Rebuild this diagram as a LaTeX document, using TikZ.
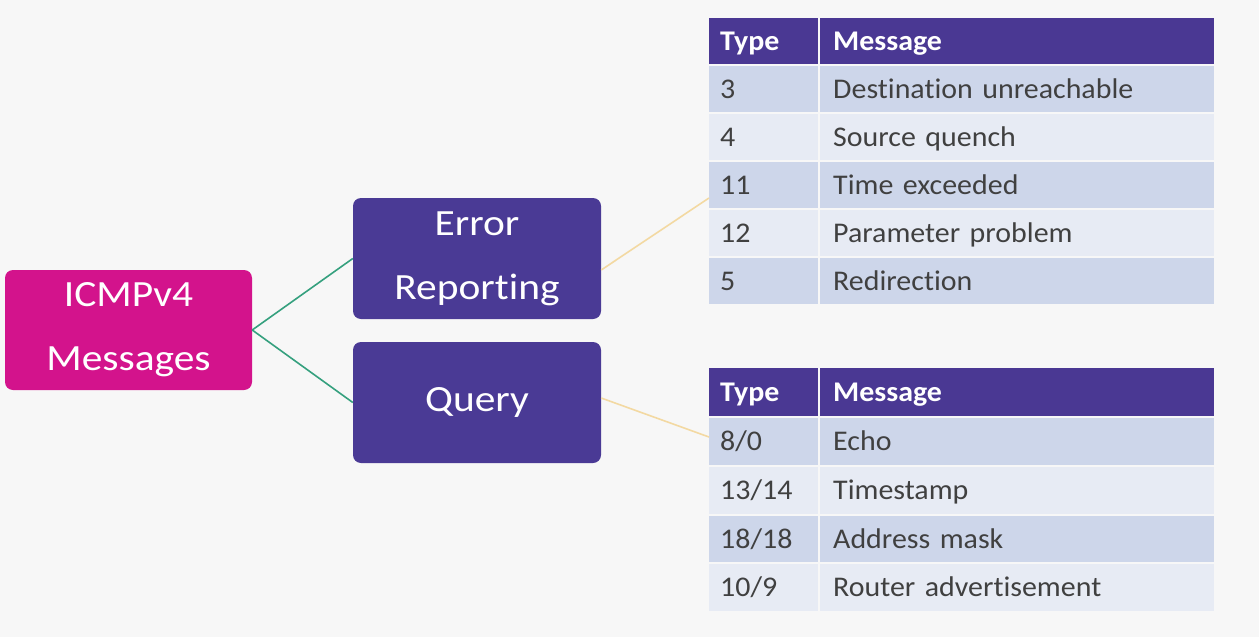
\documentclass[tikz,border=0pt]{standalone}
\usepackage{fontspec}
\setmainfont[Ligatures={NoCommon}]{Carlito}
\newfontfamily\boxfont[Ligatures={NoCommon},FakeStretch=1.12]{Carlito}
\newfontfamily\cellfont[Ligatures={NoCommon},FakeStretch=1.05]{Carlito}
\definecolor{bgc}{HTML}{F7F7F7}
\definecolor{magc}{HTML}{D3138C}
\definecolor{purc}{HTML}{4A3A95}
\definecolor{hdrc}{HTML}{4A3893}
\definecolor{darkrow}{HTML}{CDD6EA}
\definecolor{lightrow}{HTML}{E7EBF4}
\definecolor{txtc}{HTML}{404040}
\definecolor{greenc}{HTML}{35A07E}
\definecolor{yelc}{HTML}{F3D9A2}
\tikzset{
  mainbox/.style={rounded corners=8pt, text=white, align=center, inner sep=0pt,
    font=\boxfont\fontsize{37}{64}\selectfont},
  typecell/.style={anchor=north west, minimum width=109pt, minimum height=#1,
    text width=87pt, inner xsep=11pt, inner ysep=0pt, align=left,
    text height=24pt, text depth=6pt,
    font=\cellfont\fontsize{28.5}{34}\selectfont, text=txtc},
  msgcell/.style={anchor=north west, minimum width=394pt, minimum height=#1,
    text width=368pt, inner xsep=13pt, inner ysep=0pt, align=left,
    text height=24pt, text depth=6pt,
    font=\cellfont\fontsize{28.5}{34}\selectfont, text=txtc},
  hdr/.style={fill=hdrc, text=white, font=\cellfont\fontsize{28.5}{34}\selectfont\bfseries},
  green link/.style={draw=greenc, line width=1.6pt},
  yellow link/.style={draw=yelc, line width=1.6pt}
}
\begin{document}
\begin{tikzpicture}[x=1pt,y=-1pt]
\fill[bgc] (0,0) rectangle (1259,637);
\useasboundingbox (0,0) rectangle (1259,637);

% main boxes
\node[mainbox, fill=magc, minimum width=247pt, minimum height=120pt] (icmp) at (128.5,330) {ICMPv4\\Messages};
\node[mainbox, fill=purc, minimum width=248pt, minimum height=121pt] (err) at (477,258.5) {Error\\Reporting};
\node[mainbox, fill=purc, minimum width=248pt, minimum height=121pt] (qry) at (477,402.5) {Query};

% table 1
\node[typecell=46pt, hdr] (t1h1) at (709,18) {Type};
\node[msgcell=46pt, hdr] (t1h2) at (820,18) {Message};
\node[typecell=46pt, fill=darkrow] (t1a1) at (709,66) {3};
\node[msgcell=46pt, fill=darkrow] (t1a2) at (820,66) {Destination unreachable};
\node[typecell=46pt, fill=lightrow] (t1b1) at (709,114) {4};
\node[msgcell=46pt, fill=lightrow] (t1b2) at (820,114) {Source quench};
\node[typecell=46pt, fill=darkrow] (t1c1) at (709,162) {11};
\node[msgcell=46pt, fill=darkrow] (t1c2) at (820,162) {Time exceeded};
\node[typecell=46pt, fill=lightrow] (t1d1) at (709,210) {12};
\node[msgcell=46pt, fill=lightrow] (t1d2) at (820,210) {Parameter problem};
\node[typecell=46pt, fill=darkrow] (t1e1) at (709,258) {5};
\node[msgcell=46pt, fill=darkrow] (t1e2) at (820,258) {Redirection};

% table 2
\node[typecell=48pt, hdr] (t2h1) at (709,368) {Type};
\node[msgcell=48pt, hdr] (t2h2) at (820,368) {Message};
\node[typecell=47pt, fill=darkrow] (t2a1) at (709,418) {8/0};
\node[msgcell=47pt, fill=darkrow] (t2a2) at (820,418) {Echo};
\node[typecell=47pt, fill=lightrow] (t2b1) at (709,467) {13/14};
\node[msgcell=47pt, fill=lightrow] (t2b2) at (820,467) {Timestamp};
\node[typecell=46pt, fill=darkrow] (t2c1) at (709,516) {18/18};
\node[msgcell=46pt, fill=darkrow] (t2c2) at (820,516) {Address mask};
\node[typecell=47pt, fill=lightrow] (t2d1) at (709,564) {10/9};
\node[msgcell=47pt, fill=lightrow] (t2d2) at (820,564) {Router advertisement};

% connector ends on the tables
\coordinate (t1in) at (709,198);
\coordinate (t2in) at (709,437);

% connectors
\draw[green link] (icmp.east) -- (err.west);
\draw[green link] (icmp.east) -- (qry.west);
\draw[yellow link] ([yshift=-11.5pt]err.east) -- (t1in);
\draw[yellow link] ([yshift=4.5pt]qry.east) -- (t2in);
\end{tikzpicture}
\end{document}
